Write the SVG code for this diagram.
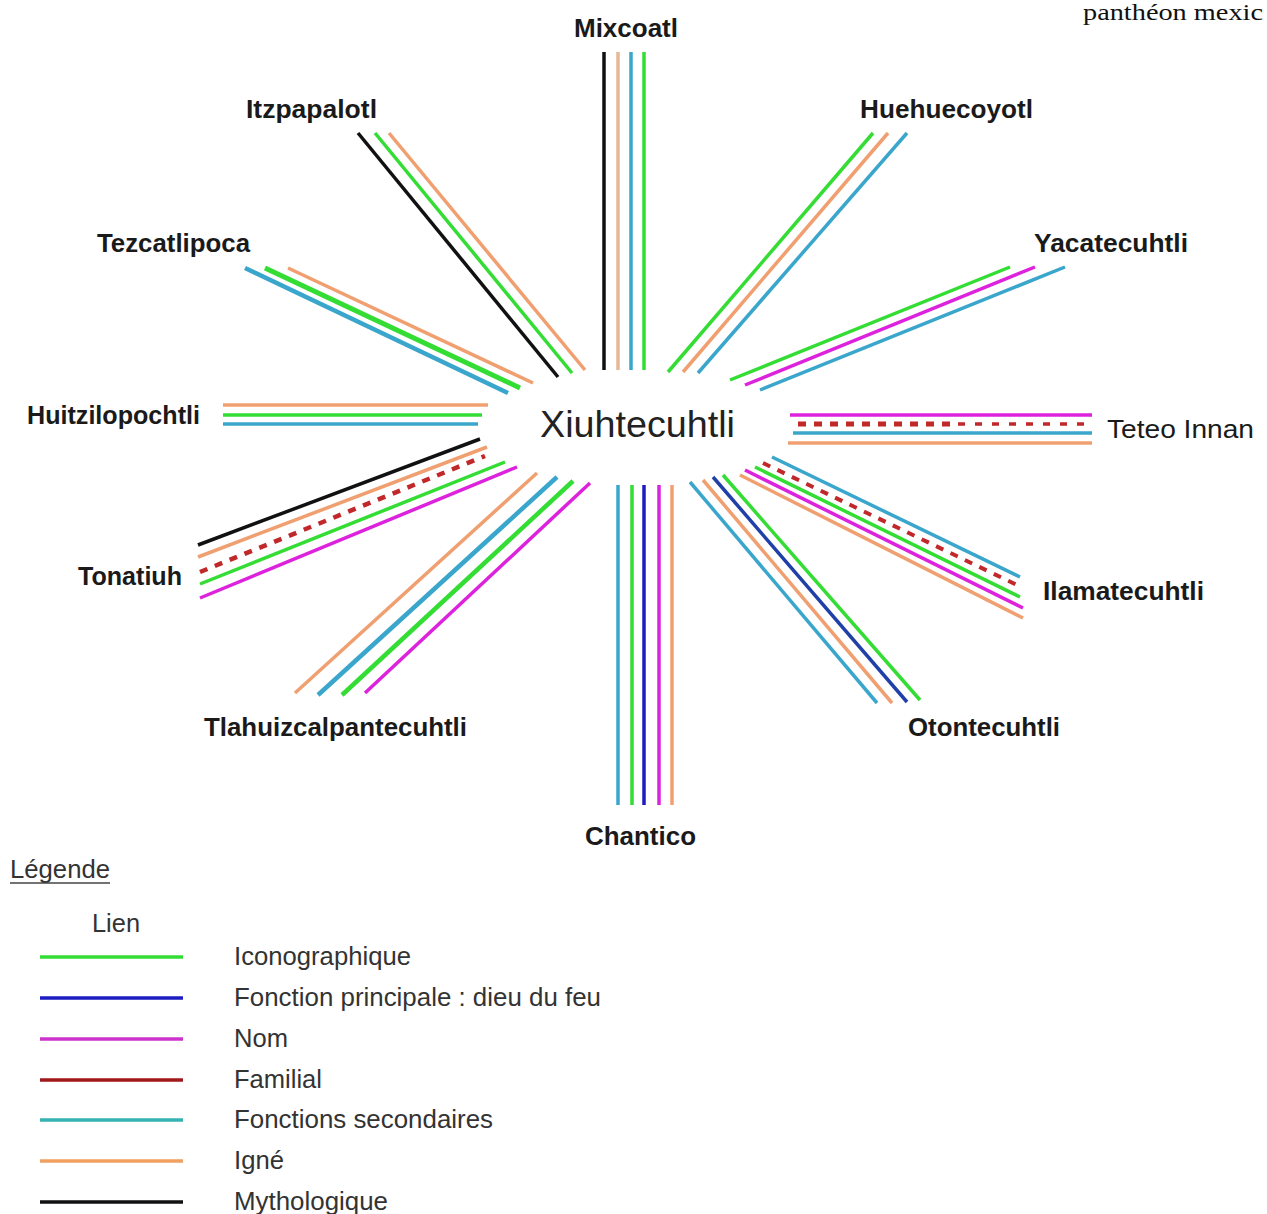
<svg xmlns="http://www.w3.org/2000/svg" width="1267" height="1214" viewBox="0 0 1267 1214">
<style>
.lbl{font-family:"Liberation Sans",Arial,sans-serif;font-weight:bold;font-size:26px;fill:#1a1a1a}
.reg{font-family:"Liberation Sans",Arial,sans-serif;font-size:25px;fill:#333}
.ln{fill:none;stroke-width:3.5;stroke-linecap:butt}
.g{stroke:#33dd33}.o{stroke:#f0a070}.t{stroke:#e6b896}.c{stroke:#3aa6cc}.m{stroke:#dd22dd}.k{stroke:#111}.b{stroke:#1c1cc0}.nb{stroke:#2040a8}
.r{stroke:#c0282a;stroke-dasharray:8 8;stroke-width:4}
</style>
<rect width="1267" height="1214" fill="#fff"/>
<text x="1083" y="20" font-family="Liberation Serif,Times New Roman,serif" font-size="24" fill="#111" textLength="180" lengthAdjust="spacingAndGlyphs">panthéon mexic</text>
<g id="connectors">
<!-- Mixcoatl -->
<line class="ln k" x1="604" y1="52" x2="604" y2="370"/>
<line class="ln t" x1="618" y1="52" x2="618" y2="370"/>
<line class="ln c" x1="631" y1="52" x2="631" y2="370"/>
<line class="ln g" x1="644" y1="52" x2="644" y2="370"/>
<!-- Itzpapalotl -->
<line class="ln k" x1="358" y1="133" x2="558" y2="377"/>
<line class="ln g" x1="375" y1="133" x2="572" y2="373"/>
<line class="ln o" x1="389" y1="133" x2="585" y2="370"/>
<!-- Tezcatlipoca -->
<line class="ln c" style="stroke-width:4.5" x1="245" y1="268" x2="508" y2="393"/>
<line class="ln g" style="stroke-width:5" x1="265" y1="268" x2="520" y2="388"/>
<line class="ln o" x1="288" y1="268" x2="533" y2="383"/>
<!-- Huehuecoyotl -->
<line class="ln g" x1="873" y1="133" x2="668" y2="372"/>
<line class="ln o" x1="888" y1="133" x2="683" y2="372"/>
<line class="ln c" x1="907" y1="133" x2="698" y2="373"/>
<!-- Yacatecuhtli -->
<line class="ln g" x1="1010" y1="267" x2="730" y2="380"/>
<line class="ln m" x1="1035" y1="267" x2="745" y2="385"/>
<line class="ln c" x1="1065" y1="267" x2="760" y2="390"/>
<!-- Huitzilopochtli -->
<line class="ln o" x1="223" y1="405" x2="488" y2="405"/>
<line class="ln g" x1="223" y1="415" x2="482" y2="415"/>
<line class="ln c" x1="223" y1="424" x2="478" y2="424"/>
<!-- Teteo Innan -->
<line class="ln m" x1="790" y1="415" x2="1092" y2="415"/>
<line class="ln r" style="stroke-width:5" x1="798" y1="424" x2="950" y2="424"/>
<line class="ln r" style="stroke-width:3.5;stroke-dasharray:7 10" x1="958" y1="424" x2="1092" y2="424"/>
<line class="ln c" x1="793" y1="433" x2="1092" y2="433"/>
<line class="ln o" x1="788" y1="443" x2="1092" y2="443"/>
<!-- Tonatiuh -->
<line class="ln k" x1="198" y1="545" x2="480" y2="439"/>
<line class="ln o" x1="198" y1="557" x2="487" y2="447"/>
<line class="ln r" style="stroke-width:4.5" x1="200" y1="572" x2="485" y2="456"/>
<line class="ln g" x1="200" y1="584" x2="505" y2="462"/>
<line class="ln m" x1="200" y1="598" x2="517" y2="467"/>
<!-- Ilamatecuhtli -->
<line class="ln c" x1="772" y1="457" x2="1020" y2="577"/>
<line class="ln r" x1="763" y1="463" x2="1017" y2="585"/>
<line class="ln g" x1="755" y1="467" x2="1020" y2="597"/>
<line class="ln m" x1="745" y1="470" x2="1023" y2="608"/>
<line class="ln o" x1="740" y1="475" x2="1023" y2="618"/>
<!-- Tlahuizcalpantecuhtli -->
<line class="ln o" x1="295" y1="693" x2="537" y2="473"/>
<line class="ln c" style="stroke-width:4.5" x1="318" y1="695" x2="557" y2="477"/>
<line class="ln g" style="stroke-width:4.5" x1="342" y1="695" x2="573" y2="481"/>
<line class="ln m" x1="365" y1="693" x2="590" y2="483"/>
<!-- Chantico -->
<line class="ln c" x1="618" y1="485" x2="618" y2="805"/>
<line class="ln g" x1="632" y1="485" x2="632" y2="805"/>
<line class="ln b" x1="644" y1="485" x2="644" y2="805"/>
<line class="ln m" x1="659" y1="485" x2="659" y2="805"/>
<line class="ln o" x1="672" y1="485" x2="672" y2="805"/>
<!-- Otontecuhtli -->
<line class="ln c" x1="690" y1="482" x2="877" y2="703"/>
<line class="ln o" x1="703" y1="480" x2="892" y2="703"/>
<line class="ln nb" x1="713" y1="477" x2="907" y2="702"/>
<line class="ln g" x1="723" y1="475" x2="920" y2="700"/>
</g>
<g id="xiuhtecuhtli">
<ellipse cx="637" cy="425" rx="125" ry="38" fill="#fff"/>
<text x="540" y="437" font-family="Liberation Sans,Arial,sans-serif" font-size="37" fill="#222" textLength="195" lengthAdjust="spacingAndGlyphs">Xiuhtecuhtli</text>
</g>
<g id="mixcoatl"><text class="lbl" x="574" y="37" textLength="104" lengthAdjust="spacingAndGlyphs">Mixcoatl</text></g>
<g id="itzpapalotl"><text class="lbl" x="246" y="118" textLength="131" lengthAdjust="spacingAndGlyphs">Itzpapalotl</text></g>
<g id="huehuecoyotl"><text class="lbl" x="860" y="118" textLength="173" lengthAdjust="spacingAndGlyphs">Huehuecoyotl</text></g>
<g id="tezcatlipoca"><text class="lbl" x="97" y="252" textLength="153" lengthAdjust="spacingAndGlyphs">Tezcatlipoca</text></g>
<g id="yacatecuhtli"><text class="lbl" x="1034" y="252" textLength="154" lengthAdjust="spacingAndGlyphs">Yacatecuhtli</text></g>
<g id="huitzilopochtli"><text class="lbl" x="27" y="424" textLength="173" lengthAdjust="spacingAndGlyphs">Huitzilopochtli</text></g>
<g id="teteo-innan"><text class="lbl" x="1107" y="438" textLength="147" lengthAdjust="spacingAndGlyphs" style="font-weight:normal">Teteo Innan</text></g>
<g id="tonatiuh"><text class="lbl" x="78" y="585" textLength="104" lengthAdjust="spacingAndGlyphs">Tonatiuh</text></g>
<g id="ilamatecuhtli"><text class="lbl" x="1043" y="600" textLength="161" lengthAdjust="spacingAndGlyphs">Ilamatecuhtli</text></g>
<g id="tlahuizcalpantecuhtli"><text class="lbl" x="204" y="736" textLength="263" lengthAdjust="spacingAndGlyphs">Tlahuizcalpantecuhtli</text></g>
<g id="otontecuhtli"><text class="lbl" x="908" y="736" textLength="152" lengthAdjust="spacingAndGlyphs">Otontecuhtli</text></g>
<g id="chantico"><text class="lbl" x="585" y="845" textLength="111" lengthAdjust="spacingAndGlyphs">Chantico</text></g>
<g id="legend">
<text class="reg" x="10" y="878" textLength="100" lengthAdjust="spacingAndGlyphs">Légende</text>
<line x1="10" y1="883" x2="110" y2="883" stroke="#444" stroke-width="1.5"/>
<text class="reg" x="92" y="932" textLength="48" lengthAdjust="spacingAndGlyphs">Lien</text>
<line class="ln" x1="40" y1="957" x2="183" y2="957" stroke="#33dd33"/>
<line class="ln" x1="40" y1="998" x2="183" y2="998" stroke="#1c1cc0"/>
<line class="ln" x1="40" y1="1039" x2="183" y2="1039" stroke="#cc33cc"/>
<line class="ln" x1="40" y1="1080" x2="183" y2="1080" stroke="#a01818"/>
<line class="ln" x1="40" y1="1120" x2="183" y2="1120" stroke="#33b3b3"/>
<line class="ln" x1="40" y1="1161" x2="183" y2="1161" stroke="#f0a060"/>
<line class="ln" x1="40" y1="1202" x2="183" y2="1202" stroke="#111"/>
<text class="reg" x="234" y="965" textLength="177" lengthAdjust="spacingAndGlyphs">Iconographique</text>
<text class="reg" x="234" y="1006" textLength="367" lengthAdjust="spacingAndGlyphs">Fonction principale : dieu du feu</text>
<text class="reg" x="234" y="1047" textLength="54" lengthAdjust="spacingAndGlyphs">Nom</text>
<text class="reg" x="234" y="1088" textLength="88" lengthAdjust="spacingAndGlyphs">Familial</text>
<text class="reg" x="234" y="1128" textLength="259" lengthAdjust="spacingAndGlyphs">Fonctions secondaires</text>
<text class="reg" x="234" y="1169" textLength="50" lengthAdjust="spacingAndGlyphs">Igné</text>
<text class="reg" x="234" y="1210" textLength="154" lengthAdjust="spacingAndGlyphs">Mythologique</text>
</g>
</svg>
